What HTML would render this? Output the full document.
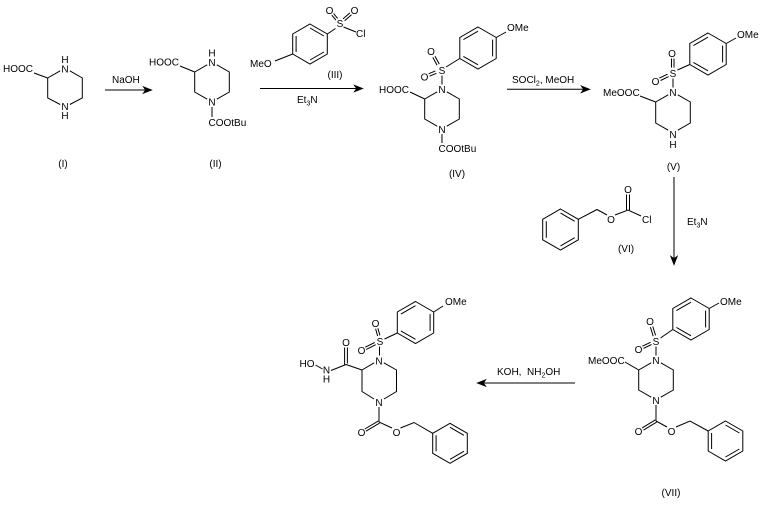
<!DOCTYPE html>
<html><head><meta charset="utf-8"><style>
html,body{margin:0;padding:0;background:#fff;}
svg{display:block;}
text{font-family:"Liberation Sans",Arial,sans-serif;font-size:10px;fill:#000;}
.m{text-anchor:middle;}
path{stroke:#000;stroke-width:1;fill:none;}
.ah{fill:#000;stroke:#000;stroke-width:0.6;}
</style></head><body>
<svg width="765" height="507" viewBox="0 0 765 507" xmlns="http://www.w3.org/2000/svg">
<!-- (I) -->
<text x="3" y="72">HOOC</text>
<text class="m" x="65" y="63">H</text>
<text class="m" x="65" y="72.5">N</text>
<text class="m" x="65" y="110">N</text>
<text class="m" x="65" y="119">H</text>
<path d="M34,73L47.7,78 M69.8,70.8L82.3,78L82.3,98L69.8,104.5 M60.2,104.5L47.7,98L47.7,78L60.2,70.8"/>
<text class="m" x="63" y="167">(I)</text>

<!-- arrow 1 -->
<text x="112" y="83">NaOH</text>
<path d="M105,90L146,90"/>
<polygon class="ah" points="152,90 143,86.5 145.5,90 143,93.5"/>

<!-- (II) -->
<text x="149" y="65.5">HOOC</text>
<text class="m" x="212" y="56.5">H</text>
<text class="m" x="212" y="66">N</text>
<text class="m" x="212" y="105.5">N</text>
<path d="M180,66L194.7,72 M216.8,64.8L229.3,72L229.3,92L216.8,99.2 M207.2,99.2L194.7,92L194.7,72L207.2,64.8 M212,107L212,117"/>
<text x="208.5" y="126">COOtBu</text>
<text class="m" x="215.5" y="167">(II)</text>

<!-- (III) reagent -->
<text class="m" x="329.5" y="14">O</text>
<text class="m" x="354.5" y="14">O</text>
<text class="m" x="340" y="27">S</text>
<text x="356" y="37">Cl</text>
<text x="250" y="67">MeO</text>
<path d="M310,24L327.3,34L327.3,54L310,64L292.7,54L292.7,34Z"/>
<path d="M310,28L323.9,36 M323.9,52L310,60 M296.1,52L296.1,36"/>
<path d="M327.3,34L335.5,28.5 M343.5,27L356,32 M275,61L292.7,54"/>
<path d="M331.8,15.2L335.9,20 M333.6,13.6L337.7,18.4 M349.9,12.9L343,18.9 M351.5,14.7L344.6,20.7"/>
<text class="m" x="335" y="78">(III)</text>

<!-- arrow 2 -->
<path d="M260,88.5L357,88.5"/>
<polygon class="ah" points="363,88.5 354,85 356.5,88.5 354,92"/>
<text x="297" y="103">Et<tspan font-size="7" dy="2.5">3</tspan><tspan dy="-2.5">N</tspan></text>

<!-- (IV) -->
<path d="M478,27L496.2,37.5L496.2,58.5L478,69L459.8,58.5L459.8,37.5Z"/>
<path d="M463.4,39.6L478,31.2 M492.6,39.6L492.6,56.4 M478,64.8L463.4,56.4"/>
<path d="M446,67L459.8,58.5 M496.2,37.5L506,32"/>
<text x="507" y="31">OMe</text>
<text class="m" x="442" y="74">S</text>
<text class="m" x="431" y="55">O</text>
<text class="m" x="424.5" y="80.5">O</text>
<path d="M432.8,57.4L437.1,65.3 M435,56.2L439.3,64.1 M428.6,73.8L435.4,70.9 M429.6,76.2L436.4,73.3"/>
<path d="M442,75.5L442,84.5"/>
<text class="m" x="442" y="93">N</text>
<text class="m" x="442" y="133">N</text>
<text x="379" y="93">HOOC</text>
<path d="M410,92L424.7,99 M446.8,91.8L459.3,99L459.3,119L446.8,126.2 M437.2,126.2L424.7,119L424.7,99L437.2,91.8 M442,134L442,143"/>
<text x="438.5" y="152">COOtBu</text>
<text class="m" x="457" y="177">(IV)</text>

<!-- arrow 3 -->
<text x="512" y="83">SOCl<tspan font-size="7" dy="2.5">2</tspan><tspan dy="-2.5">, MeOH</tspan></text>
<path d="M507,89.3L584,89.3"/>
<polygon class="ah" points="590,89.3 581,85.8 583.5,89.3 581,92.8"/>

<!-- (V) -->
<path d="M708,33L726.2,43.5L726.2,64.5L708,75L689.8,64.5L689.8,43.5Z"/>
<path d="M693.4,45.6L708,37.2 M722.6,45.6L722.6,62.4 M708,70.8L693.4,62.4"/>
<path d="M677.5,70L689.8,64.5 M726.2,43.5L736,38"/>
<text x="737" y="38">OMe</text>
<text class="m" x="673" y="77">S</text>
<text class="m" x="672" y="57">O</text>
<text class="m" x="655.5" y="85">O</text>
<path d="M671.5,58.5L671.5,67.5 M674,58.5L674,67.5 M659.4,78.1L667.5,74.2 M660.6,80.5L668.6,76.6"/>
<path d="M673,78.5L673,87.5"/>
<text class="m" x="673" y="96">N</text>
<text x="603" y="96">MeOOC</text>
<path d="M640,96L655.7,102 M677.8,94.8L690.3,102L690.3,123L677.8,130.2 M668.2,130.2L655.7,123L655.7,102L668.2,94.8"/>
<text class="m" x="673" y="138">N</text>
<text class="m" x="673" y="148">H</text>
<text class="m" x="673.5" y="170">(V)</text>

<!-- (VI) reagent -->
<path d="M560.5,209L578.3,219.3L578.3,239.8L560.5,250L542.7,239.8L542.7,219.3Z"/>
<path d="M546.3,221.3L546.3,237.7 M560.5,213.1L574.7,221.3 M574.7,237.7L560.5,245.9"/>
<path d="M578.3,219.3L597,209.5L607,215 M615,215L628,210L641,216 M626.5,210L626.5,194.5 M629.5,210L629.5,194.5"/>
<text class="m" x="611" y="223">O</text>
<text class="m" x="628" y="193">O</text>
<text x="642" y="223">Cl</text>
<text class="m" x="626" y="252">(VI)</text>

<!-- down arrow -->
<path d="M674,177L674,259"/>
<polygon class="ah" points="674,265 670.5,256 674,258.5 677.5,256"/>
<text x="687" y="225">Et<tspan font-size="7" dy="2.5">3</tspan><tspan dy="-2.5">N</tspan></text>

<!-- (VII) -->
<path d="M691,298L709.2,308.5L709.2,329.5L691,340L672.8,329.5L672.8,308.5Z"/>
<path d="M676.4,310.6L691,302.2 M705.6,310.6L705.6,327.4 M691,335.8L676.4,327.4"/>
<path d="M660.5,338L672.8,329.5 M709.2,308.5L719,303"/>
<text x="720" y="305">OMe</text>
<text class="m" x="656" y="345">S</text>
<text class="m" x="650" y="325">O</text>
<text class="m" x="638.5" y="353">O</text>
<path d="M650.4,327.2L653.2,336.1 M652.8,326.5L655.6,335.4 M642.5,346.2L650.5,342.3 M643.5,348.4L651.5,344.5"/>
<path d="M656,346.5L656,355.5"/>
<text class="m" x="656" y="364">N</text>
<text x="588" y="364">MeOOC</text>
<path d="M625,362L638.7,370 M660.8,362.8L673.3,370L673.3,390L660.8,397.2 M651.2,397.2L638.7,390L638.7,370L651.2,362.8"/>
<text class="m" x="656" y="404">N</text>
<path d="M656,405L656,421 M655.3,419.9L642.1,427.9 M656.7,422.1L643.5,430.1 M656,421L667,427 M676,427L690,421L708.2,431"/>
<text class="m" x="638.5" y="435">O</text>
<text class="m" x="671.5" y="435">O</text>
<path d="M725.5,421L742.8,431L742.8,451L725.5,461L708.2,451L708.2,431Z"/>
<path d="M725.5,425L739.4,433 M739.4,449L725.5,457 M711.6,449L711.6,433"/>
<text class="m" x="671" y="496">(VII)</text>

<!-- arrow 4 -->
<text x="497" y="375">KOH,&#160; NH<tspan font-size="7" dy="2.5">2</tspan><tspan dy="-2.5">OH</tspan></text>
<path d="M483,383L575,383"/>
<polygon class="ah" points="477,383 486,379.5 483.5,383 486,386.5"/>

<!-- (VIII) -->
<path d="M415.5,301.5L433.7,312L433.7,333L415.5,343.5L397.3,333L397.3,312Z"/>
<path d="M400.9,314.1L415.5,305.7 M430.1,314.1L430.1,330.9 M415.5,339.3L400.9,330.9"/>
<path d="M384.5,339L397.3,333 M433.7,312L443,306"/>
<text x="445" y="305">OMe</text>
<text class="m" x="380" y="345">S</text>
<text class="m" x="375.5" y="327">O</text>
<text class="m" x="361.5" y="354">O</text>
<path d="M375.6,328.8L377.6,336 M377.9,328.2L379.9,335.4 M365.2,347.2L374.7,342.5 M366.2,349.4L375.7,344.7"/>
<path d="M379.5,346.5L379.5,355.5"/>
<text class="m" x="379" y="364.5">N</text>
<path d="M383.8,362.8L396.5,370L396.5,391.5L384,399 M374,399L362,391.5L362,370L374.2,362.8"/>
<text class="m" x="379" y="406">N</text>
<path d="M379,407L379,422 M378.4,420.9L364.8,429 M379.6,423.1L366,431.2 M379,422L392,428 M400.5,428L414,422.5L432.7,433.3"/>
<text class="m" x="361.5" y="436">O</text>
<text class="m" x="396.5" y="436">O</text>
<path d="M450,423.3L467.3,433.3L467.3,453.3L450,463.3L432.7,453.3L432.7,433.3Z"/>
<path d="M450,427.3L463.9,435.3 M463.9,451.3L450,459.3 M436.1,451.3L436.1,435.3"/>
<!-- hydroxamic acid -->
<path d="M362,370L346,364.5 M344.6,347.5L344.6,364.5 M347.4,347.5L347.4,363.5 M346,364.5L331,370.5 M315.5,365L322.5,369"/>
<text class="m" x="346" y="346">O</text>
<text class="m" x="326.5" y="373.5">N</text>
<text class="m" x="326.5" y="382.5">H</text>
<text x="299.5" y="367">HO</text>
</svg>
</body></html>
